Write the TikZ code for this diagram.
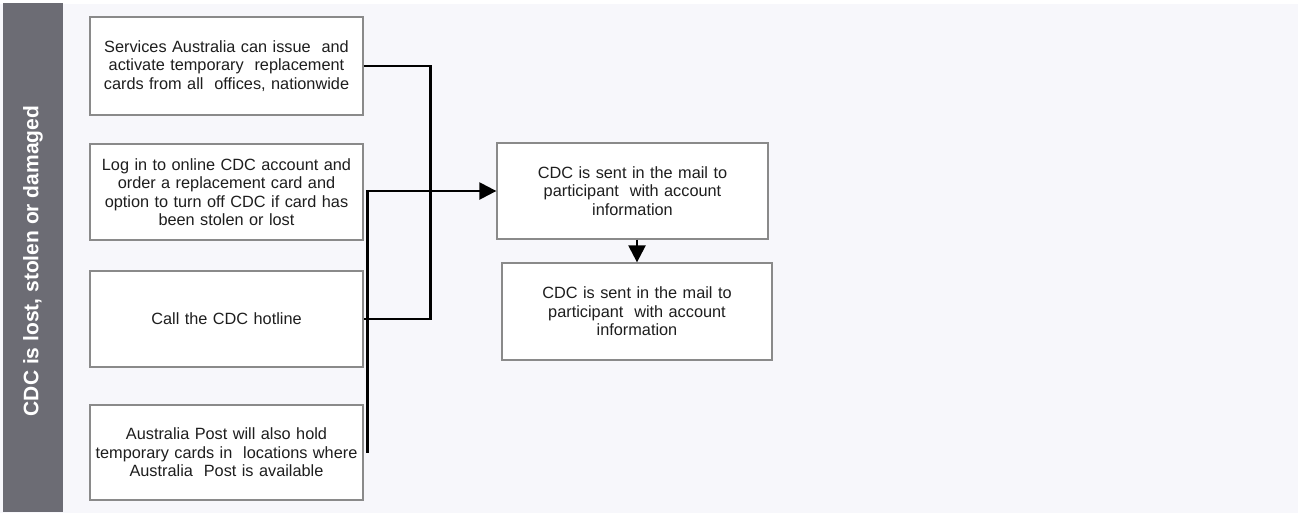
\documentclass[tikz,border=0pt]{standalone}
\usepackage{fontspec}
\setmainfont{Liberation Sans}
\usetikzlibrary{arrows.meta}

\definecolor{pagebg}{HTML}{F7F7FB}
\definecolor{lanegray}{HTML}{6C6C74}
\definecolor{boxline}{HTML}{8A8A8A}
\definecolor{boxtext}{HTML}{1E1E1E}

\tikzset{
  stepbox/.style={draw=boxline, line width=1.3pt, fill=white, rectangle, align=center,
    text width=265pt, inner xsep=4pt, inner ysep=0pt, text=boxtext,
    font=\fontsize{16.3}{18.5}\selectfont},
  link/.style={line width=2.4pt, black},
  tip/.style={-{Triangle[length=17pt,width=17pt]}}
}

\begin{document}
\begin{tikzpicture}[x=1pt,y=-1pt]
\useasboundingbox (0,0) rectangle (1305,515);
\fill[pagebg] (0,4) rectangle (1298,513);

\node[fill=lanegray, rotate=90, minimum width=509pt, minimum height=60pt, inner sep=0pt,
  text=white, font=\fontsize{21}{24}\selectfont\bfseries] (lane) at (33,257.5) {\raisebox{-1pt}{\hspace*{-7pt}CDC is lost, stolen or damaged}};

\node[stepbox, minimum height=98pt] (issue) at (226.5,66) {Services Australia can issue\ \ and\\activate temporary\ \ replacement\\cards from all\ \ offices, nationwide};
\node[stepbox, minimum height=96pt] (online) at (226.5,192) {Log in to online CDC account and\\order a replacement card and\\option to turn off CDC if card has\\been stolen or lost};
\node[stepbox, minimum height=96pt] (hotline) at (226.5,319) {Call the CDC hotline};
\node[stepbox, minimum height=95pt] (post) at (226.5,452.5) {Australia Post will also hold\\temporary cards in\ \ locations where\\Australia\ \ Post is available};

\node[stepbox, text width=263pt, minimum height=96pt] (mailA) at (632.5,191) {CDC is sent in the mail to\\participant\ \ with account\\information};
\node[stepbox, text width=262pt, minimum height=97pt] (mailB) at (637,311.5) {CDC is sent in the mail to\\participant\ \ with account\\information};

\coordinate (postout) at ([xshift=4pt]post.east);

\draw[link] (issue.east) -- ++(67,0) |- (hotline.east);
\draw[link, tip] (postout) |- (mailA.west);
\draw[link, tip] (mailA.south -| mailB.north) -- (mailB.north);
\end{tikzpicture}
\end{document}
